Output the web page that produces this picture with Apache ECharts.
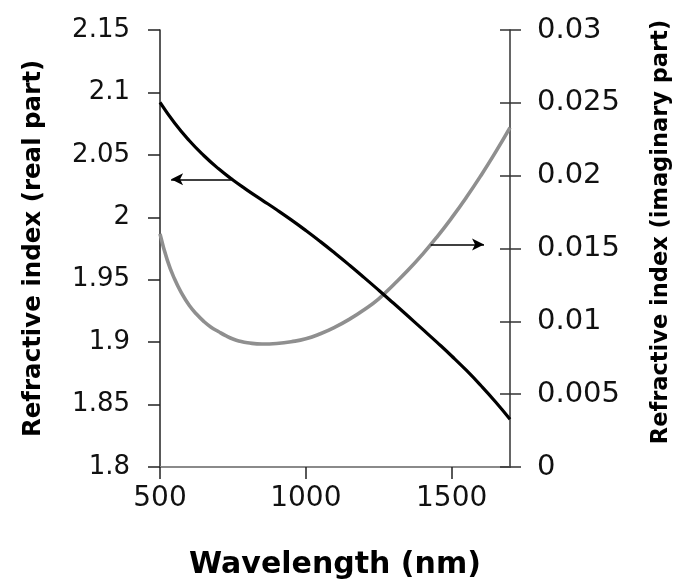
<!DOCTYPE html>
<html>
<head>
<meta charset="utf-8">
<script src="https://cdn.jsdelivr.net/npm/echarts@6/dist/echarts.min.js"></script>
<style>
  html, body { margin: 0; padding: 0; background: #fff; overflow: hidden; }
  #chart { width: 682px; height: 588px; }
</style>
</head>
<body>
<div id="chart"></div>
<script>
// Real part of the refractive index versus wavelength (nm)
const realWavelengths = [500, 550, 600, 650, 700, 750, 800, 850, 900, 950, 1000, 1050, 1100, 1150, 1200, 1250, 1300, 1350, 1400, 1450, 1500, 1550, 1600, 1650, 1700];
const realValues = [2.092, 2.0755, 2.0615, 2.0495, 2.039, 2.0298, 2.0216, 2.0138, 2.006, 1.9979, 1.9894, 1.9805, 1.9712, 1.9616, 1.9517, 1.9416, 1.9313, 1.9209, 1.9104, 1.8998, 1.8889, 1.8775, 1.8653, 1.8523, 1.8383];

// Imaginary part of the refractive index versus wavelength (nm)
const imagWavelengths = [500, 525, 550, 575, 600, 625, 650, 675, 700, 725, 750, 775, 800, 850, 900, 950, 1000, 1050, 1100, 1150, 1200, 1250, 1300, 1350, 1400, 1450, 1500, 1550, 1600, 1650, 1700];
const imagValues = [0.0160, 0.0142, 0.0129, 0.0119, 0.0111, 0.0105, 0.0100, 0.0096, 0.0093, 0.00902, 0.00879, 0.00863, 0.00853, 0.00844, 0.00848, 0.0086, 0.0088, 0.00915, 0.0096, 0.01015, 0.0108, 0.01155, 0.0125, 0.0135, 0.0146, 0.0158, 0.0171, 0.0185, 0.0200, 0.0216, 0.0233];

// Axis ranges and tick values
const xTicks = [500, 1000, 1500];
const xRange = [500, 1700];
const realRange = [1.8, 2.15];
const realStep = 0.05;
const imagRange = [0, 0.03];
const imagStep = 0.005;

// Arrows pointing each curve to its axis: [x start, x end, y]
const realArrow = [743, 538, 2.0304];
const imagArrow = [1428, 1611, 0.01527];

const pairs = (xs, ys) => xs.map((x, i) => [x, ys[i]]);
const fmt = v => String(parseFloat(Number(v).toFixed(4)));

const chart = echarts.init(document.getElementById('chart'), null, { renderer: 'canvas' });

const tickFont = { fontFamily: 'DejaVu Sans', color: '#111' };
const titleFont = { fontFamily: 'DejaVu Sans', fontWeight: 'bold', color: '#000' };

chart.setOption({
  animation: false,
  backgroundColor: '#fff',
  grid: { left: 160, right: 172, top: 30, bottom: 121, containLabel: false, outerBoundsMode: 'none' },
  xAxis: [
    {
      type: 'value',
      min: xRange[0], max: xRange[1], interval: 500,
      name: 'Wavelength (nm)',
      nameLocation: 'middle',
      nameGap: 83,
      nameTextStyle: Object.assign({ fontSize: 30 }, titleFont),
      axisLine: { show: true, lineStyle: { color: '#222', width: 1.5 } },
      axisTick: { show: true, length: 12, lineStyle: { color: '#222', width: 1.5 }, customValues: xTicks },
      axisLabel: Object.assign({ fontSize: 28, margin: 18, customValues: xTicks, formatter: v => String(v) }, tickFont),
      splitLine: { show: false }
    },
    {
      type: 'value', position: 'top',
      min: xRange[0], max: xRange[1],
      axisLine: { show: true, lineStyle: { color: '#9a9a9a', width: 1.5 } },
      axisTick: { show: false }, axisLabel: { show: false }, splitLine: { show: false }
    }
  ],
  yAxis: [
    {
      type: 'value', position: 'left',
      min: realRange[0], max: realRange[1], interval: realStep,
      name: 'Refractive index (real part)',
      nameLocation: 'middle', nameGap: 114, nameRotate: 90,
      nameTextStyle: Object.assign({ fontSize: 24.5 }, titleFont),
      axisLine: { show: true, lineStyle: { color: '#222', width: 1.5 } },
      axisTick: { show: true, length: 12, lineStyle: { color: '#222', width: 1.5 } },
      axisLabel: Object.assign({ fontSize: 26, margin: 30, formatter: fmt }, tickFont),
      splitLine: { show: false }
    },
    {
      type: 'value', position: 'right',
      min: imagRange[0], max: imagRange[1], interval: imagStep,
      name: 'Refractive index (imaginary part)',
      nameLocation: 'middle', nameGap: 140, nameRotate: 90,
      nameTextStyle: Object.assign({ fontSize: 22.5, padding: [0, 0, 0, 33] }, titleFont),
      axisLine: { show: true, lineStyle: { color: '#333', width: 1.5 } },
      axisTick: { show: true, length: 11, lineStyle: { color: '#333', width: 1.5 } },
      axisLabel: Object.assign({ fontSize: 29, margin: 27, formatter: fmt }, tickFont),
      splitLine: { show: false }
    },
    {
      // inner half of the crossing ticks on the right axis
      type: 'value', position: 'right',
      min: imagRange[0], max: imagRange[1], interval: imagStep,
      axisLine: { show: false },
      axisTick: { show: true, inside: true, length: 10, lineStyle: { color: '#333', width: 1.5 } },
      axisLabel: { show: false }, splitLine: { show: false }
    }
  ],
  series: [
    {
      name: 'real',
      type: 'line',
      xAxisIndex: 0, yAxisIndex: 0,
      data: pairs(realWavelengths, realValues),
      smooth: 0.5,
      showSymbol: false,
      lineStyle: { color: '#000', width: 3.2 },
      markLine: {
        silent: true, animation: false,
        symbol: ['none', 'arrow'], symbolSize: [9, 12],
        label: { show: false },
        lineStyle: { color: '#000', width: 1.5, type: 'solid' },
        data: [[{ coord: [realArrow[0], realArrow[2]] }, { coord: [realArrow[1], realArrow[2]] }]]
      },
      z: 3
    },
    {
      name: 'imaginary',
      type: 'line',
      xAxisIndex: 0, yAxisIndex: 1,
      data: pairs(imagWavelengths, imagValues),
      smooth: 0.5,
      showSymbol: false,
      lineStyle: { color: '#8f8f8f', width: 3.6 },
      markLine: {
        silent: true, animation: false,
        symbol: ['none', 'arrow'], symbolSize: [9, 12],
        label: { show: false },
        lineStyle: { color: '#000', width: 1.5, type: 'solid' },
        data: [[{ coord: [imagArrow[0], imagArrow[2]] }, { coord: [imagArrow[1], imagArrow[2]] }]]
      },
      z: 2
    }
  ]
});
</script>
</body>
</html>
